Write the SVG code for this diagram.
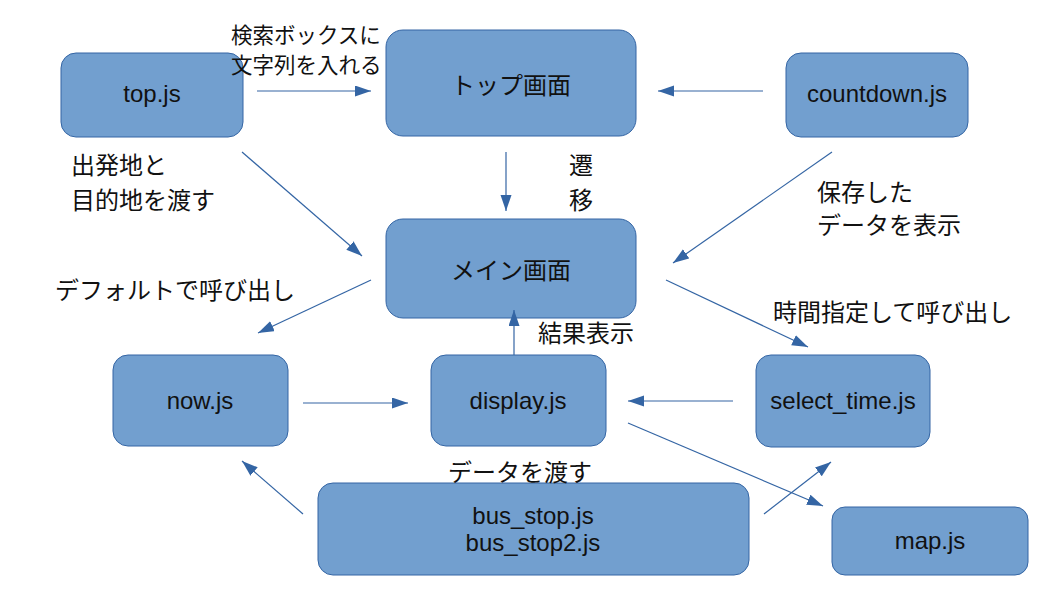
<svg xmlns="http://www.w3.org/2000/svg" width="1058" height="595" viewBox="0 0 1058 595">
<style>
.box{fill:#729fcf;stroke:#3465a4;stroke-width:1}
.nt{font-family:"Liberation Sans","Noto Sans CJK JP",sans-serif;font-size:24px;fill:#111;text-anchor:middle}
.lb{font-family:"Noto Sans CJK JP","Liberation Sans",sans-serif;font-size:24px;fill:#111}
.cn line{stroke:#3465a4;stroke-width:1.2;marker-end:url(#ah)}
</style>
<defs>
<marker id="ah" markerUnits="userSpaceOnUse" markerWidth="17" markerHeight="12" refX="16" refY="5.5" orient="auto">
<path d="M0,0 L16,5.5 L0,11 z" fill="#3465a4"/>
</marker>
</defs>
<rect width="1058" height="595" fill="#fff"/>
<g id="top-js"><rect class="box" x="61" y="53" width="182" height="84" rx="15"/><text class="nt" x="152" y="102">top.js</text></g>
<g id="top-screen"><rect class="box" x="386" y="30" width="250" height="106" rx="17"/><text class="nt" x="511" y="94">トップ画面</text></g>
<g id="countdown-js"><rect class="box" x="786" y="53" width="182" height="84" rx="15"/><text class="nt" x="877" y="102">countdown.js</text></g>
<g id="main-screen"><rect class="box" x="386" y="219" width="250" height="99" rx="17"/><text class="nt" x="511" y="279">メイン画面</text></g>
<g id="now-js"><rect class="box" x="113" y="355" width="175" height="91" rx="15"/><text class="nt" x="200" y="409">now.js</text></g>
<g id="display-js"><rect class="box" x="431" y="355" width="175" height="91" rx="15"/><text class="nt" x="518" y="409">display.js</text></g>
<g id="select-time-js"><rect class="box" x="756" y="355" width="174" height="92" rx="15"/><text class="nt" x="843" y="409">select_time.js</text></g>
<g id="bus-stop-js"><rect class="box" x="318" y="483" width="431" height="92" rx="15"/><text class="nt" x="533" y="524">bus_stop.js</text><text class="nt" x="533" y="551">bus_stop2.js</text></g>
<g id="map-js"><rect class="box" x="832" y="507" width="196" height="68" rx="13"/><text class="nt" x="930" y="549">map.js</text></g>
<g id="connectors" class="cn">
<line x1="257" y1="91" x2="371" y2="91"/>
<line x1="763" y1="91" x2="658" y2="91"/>
<line x1="506" y1="152" x2="506" y2="211"/>
<line x1="242" y1="152" x2="362" y2="256"/>
<line x1="832" y1="152" x2="673" y2="263"/>
<line x1="371" y1="280" x2="258" y2="333"/>
<line x1="666" y1="280" x2="808" y2="347"/>
<line x1="514" y1="355" x2="514" y2="310"/>
<line x1="303" y1="403" x2="408" y2="403"/>
<line x1="733" y1="401" x2="628" y2="401"/>
<line x1="628" y1="423" x2="823" y2="506"/>
<line x1="764" y1="514" x2="831" y2="462"/>
<line x1="303" y1="514" x2="242" y2="461"/>
</g>
<g id="labels">
<text class="lb" x="231" y="43" style="font-size:21.5px">検索ボックスに</text>
<text class="lb" x="231" y="73" style="font-size:21.5px">文字列を入れる</text>
<text class="lb" x="71" y="174">出発地と</text>
<text class="lb" x="71" y="209">目的地を渡す</text>
<text class="lb" x="55" y="299">デフォルトで呼び出し</text>
<text class="lb" x="569" y="174">遷</text>
<text class="lb" x="569" y="209">移</text>
<text class="lb" x="817" y="201">保存した</text>
<text class="lb" x="817" y="234">データを表示</text>
<text class="lb" x="773" y="321">時間指定して呼び出し</text>
<text class="lb" x="538" y="342">結果表示</text>
<text class="lb" x="448" y="481">データを渡す</text>
</g>
</svg>
